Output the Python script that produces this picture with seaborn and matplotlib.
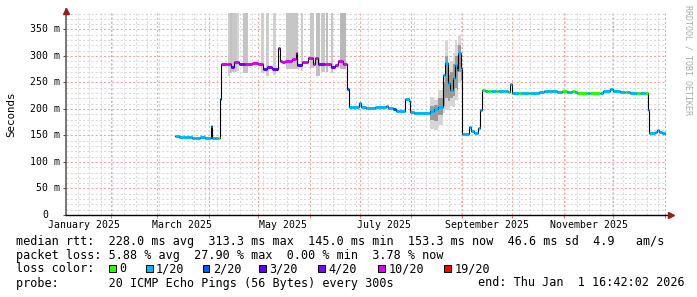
import matplotlib
matplotlib.use("Agg")
import matplotlib.pyplot as plt
import matplotlib.transforms as mtrans
from matplotlib.patches import Rectangle
import numpy as np
import pandas as pd
import seaborn as sns

# ---------------- data (x = days since 2025-01-01, y = milliseconds) ----------------
med_day = [69.8, 72.0, 74.5, 76.0, 78.0, 80.0, 82.0, 85.0, 88.0, 91.4,
           92.2, 93.6, 95.6, 97.1, 97.7, 101.0, 103.5, 105.0, 108.0, 112.0,
           116.0, 120.0, 123.0, 125.0, 128.0, 131.6, 133.0, 134.0, 136.0, 140.0,
           142.4, 143.4, 146.5, 150.0, 153.0, 154.2, 156.0, 160.0, 163.5, 166.0,
           168.0, 171.0, 173.6, 174.8, 180.8, 182.0, 185.0, 190.0, 197.0, 198.0,
           201.0, 203.0, 205.0, 208.4, 210.8, 211.6, 214.0, 217.0, 223.6, 226.0,
           228.4, 231.0, 232.4, 234.0, 235.6, 237.0, 238.4, 239.6, 240.6, 242.0,
           242.6, 247.0, 248.0, 250.0, 252.4, 253.6, 254.6, 256.5, 258.5, 260.5,
           263.0, 264.5, 268.0, 270.5, 271.6, 273.0, 277.0, 278.0, 283.0, 284.0,
           289.0, 292.0, 297.0, 300.0, 303.0, 306.0, 309.0, 311.0, 312.0, 318.0,
           320.0, 326.0, 328.0, 332.0, 334.0, 338.0, 341.0, 342.0, 344.0, 348.0,
           350.0, 353.0, 355.0, 355.6, 359.0, 360.0, 361.4, 363.0, 365.0]
med_ms = [148.5, 147.0, 148.0, 146.5, 147.5, 146.0, 145.0, 146.5, 145.8, 167.0,
          145.0, 145.5, 145.0, 219.0, 284.3, 285.0, 280.0, 288.0, 285.0, 285.0,
          286.0, 285.0, 275.0, 278.6, 276.0, 314.5, 291.0, 289.0, 291.0, 293.8,
          305.0, 283.0, 289.0, 295.6, 285.0, 295.6, 285.0, 285.0, 278.6, 283.0,
          290.6, 285.0, 238.0, 204.4, 210.7, 204.4, 202.5, 204.0, 206.0, 201.0,
          199.7, 196.8, 196.0, 218.0, 215.6, 194.0, 193.0, 192.0, 196.8, 200.0,
          204.0, 264.0, 287.0, 248.5, 236.0, 258.0, 283.0, 273.6, 305.0, 276.8,
          152.8, 165.4, 159.0, 155.3, 163.5, 198.0, 236.0, 234.0, 233.5, 233.0,
          234.0, 233.0, 233.5, 232.5, 246.6, 230.8, 230.8, 230.8, 231.0, 230.8,
          232.6, 234.0, 233.0, 232.5, 233.8, 232.6, 233.0, 232.0, 230.8, 230.8,
          230.8, 231.0, 234.0, 237.7, 234.0, 232.0, 232.0, 232.0, 230.8, 231.0,
          230.8, 231.0, 198.0, 154.0, 157.0, 160.0, 156.0, 154.0, 153.3]
med_loss = [1, 1, 1, 1, 1, 1, 1, 1, 1, 1,
            1, 1, 0, 2, 10, 10, 3, 10, 4, 10,
            10, 10, 3, 4, 3, 10, 10, 10, 10, 10,
            10, 3, 10, 10, 10, 10, 4, 10, 3, 10,
            10, 10, 2, 1, 1, 1, 1, 1, 1, 1,
            2, 1, 1, 1, 1, 1, 1, 1, 1, 1,
            1, 1, 1, 1, 1, 1, 1, 1, 1, 1,
            1, 1, 1, 1, 1, 1, 0, 1, 0, 1,
            0, 1, 1, 0, 1, 1, 0, 1, 0, 1,
            1, 1, 1, 1, 0, 1, 0, 1, 0, 1,
            0, 1, 1, 1, 1, 1, 0, 1, 1, 0,
            1, 0, 1, 1, 1, 1, 1, 1, 1]
END_DAY = 365.7

# smoke (grey) bars in the spring period, reaching above the chart top
bar_start = [101.6, 103.0, 104.2, 107.0, 111.0, 121.4, 124.4, 129.0, 136.4, 145.4, 150.8, 155.0, 158.0, 161.0, 164.0, 169.4]
bar_end = [103.0, 104.2, 107.0, 108.0, 114.0, 123.2, 126.6, 130.6, 144.0, 147.0, 153.8, 157.0, 160.0, 162.2, 165.0, 173.0]
bar_low = [262, 268, 270, 272, 268, 268, 262, 265, 275, 272, 278, 262, 270, 270, 268, 275]
bar_shade = ['#cccccc', '#c2c2c2', '#c8c8c8', '#d4d4d4', '#c4c4c4', '#cfcfcf', '#cccccc', '#d0d0d0',
             '#c6c6c6', '#cccccc', '#c8c8c8', '#c0c0c0', '#c8c8c8', '#bdbdbd', '#c8c8c8', '#b8b8b8']
SMOKE_TOP = 400

# smoke in late August / early September
sep_start = [223.6, 226.0, 228.4, 231.0, 232.4, 234.0, 235.6, 237.0, 238.4, 239.6, 240.6, 242.0]
sep_end = [226.0, 228.4, 231.0, 232.4, 234.0, 235.6, 237.0, 238.4, 239.6, 240.6, 242.0, 242.6]
sep_outer_lo = [163, 160, 170, 192, 198, 198, 205, 204, 217, 215, 249, 240]
sep_outer_hi = [223, 217, 236, 264, 330, 280, 290, 305, 330, 320, 340, 300]
sep_inner_lo = [180, 178, 188, 205, 220, 215, 220, 225, 240, 235, 270, 255]
sep_inner_hi = [205, 208, 220, 250, 300, 265, 270, 285, 300, 300, 320, 290]

month_labels = ['January 2025', 'March 2025', 'May 2025', 'July 2025', 'September 2025', 'November 2025']
month_label_days = [15, 74, 135, 196, 258, 319]
month_start_days = [31, 59, 90, 120, 151, 181, 212, 243, 273, 304, 334, 365]
y_ticks = [0, 50, 100, 150, 200, 250, 300, 350]
y_labels = ['0', '50 m', '100 m', '150 m', '200 m', '250 m', '300 m', '350 m']

loss_codes = [0, 1, 2, 3, 4, 10, 19]
loss_names = ['0', '1/20', '2/20', '3/20', '4/20', '10/20', '19/20']
loss_colors = ['#26ff00', '#00b8ff', '#0059ff', '#5e00ff', '#7e00ff', '#dd00ff', '#ff0000']

stat_lines = [
    "median rtt:  228.0 ms avg  313.3 ms max  145.0 ms min  153.3 ms now  46.6 ms sd  4.9   am/s",
    "packet loss: 5.88 % avg  27.90 % max  0.00 % min  3.78 % now",
]
probe_text = "probe:       20 ICMP Echo Pings (56 Bytes) every 300s"
end_text = "end: Thu Jan  1 16:42:02 2026"

# ---------------- drawing ----------------
MONO = 'DejaVu Sans Mono'
plt.rcParams['font.family'] = [MONO, 'DejaVu Sans']

W, H = 697, 297
fig = plt.figure(figsize=(W / 100, H / 100), dpi=100)
ax = fig.add_axes([66 / W, (H - 215) / H, 600 / W, 202 / H])

ax.set_xlim(5.7, END_DAY)
ax.set_ylim(0, 381)

# grid
ax.set_xticks(month_start_days)
ax.set_xticks(np.arange(4, 366, 7), minor=True)
ax.set_yticks(y_ticks)
ax.set_yticks(np.arange(0, 381, 10), minor=True)
ax.set_xticklabels([])
ax.set_yticklabels([])
ax.grid(True, which='minor', color='#d9d9d9', linestyle=(0, (2, 2)), linewidth=0.75)
ax.grid(True, which='major', color='#f2a3a3', linestyle=(0, (2, 2)), linewidth=0.75)
ax.set_axisbelow(True)
ax.tick_params(axis='y', which='major', length=2, width=0.8, color='#555555')
ax.tick_params(axis='x', which='major', length=2, width=0.8, color='#e08080')
ax.tick_params(which='minor', length=0)
for s in ax.spines.values():
    s.set_visible(False)

# smoke
ax.bar(bar_start, [SMOKE_TOP - lo for lo in bar_low], bottom=bar_low,
       width=[e - s for s, e in zip(bar_start, bar_end)], align='edge',
       color=bar_shade, linewidth=0, zorder=2)
ax.bar(sep_start, [h - l for l, h in zip(sep_outer_lo, sep_outer_hi)], bottom=sep_outer_lo,
       width=[e - s for s, e in zip(sep_start, sep_end)], align='edge',
       color='#d6d6d6', linewidth=0, zorder=2)
ax.bar(sep_start, [h - l for l, h in zip(sep_inner_lo, sep_inner_hi)], bottom=sep_inner_lo,
       width=[e - s for s, e in zip(sep_start, sep_end)], align='edge',
       color='#9a9a9a', linewidth=0, zorder=2.5)

# median: black step line
line_df = pd.DataFrame({'day': med_day + [END_DAY], 'ms': med_ms + [med_ms[-1]]})
sns.lineplot(data=line_df, x='day', y='ms', drawstyle='steps-post', color='black',
             linewidth=0.8, estimator=None, sort=False, ax=ax, zorder=4)

# median: loss-coloured thick segments
name_of = dict(zip(loss_codes, loss_names))
palette = dict(zip(loss_names, loss_colors))
ends = med_day[1:] + [END_DAY]
rows = []
for i, (d, e, v, l) in enumerate(zip(med_day, ends, med_ms, med_loss)):
    rows.append((d, v, i, name_of[l]))
    rows.append((e, v, i, name_of[l]))
seg_df = pd.DataFrame(rows, columns=['day', 'ms', 'seg', 'loss'])
sns.lineplot(data=seg_df, x='day', y='ms', hue='loss', units='seg', estimator=None,
             palette=palette, linewidth=2.2, legend=False, sort=False, ax=ax, zorder=5,
             solid_capstyle='butt')
ax.set_xlabel('')
ax.set_ylabel('')

# axis lines and arrows
ax.plot([0, 0], [0, (215 - 9) / 202], transform=ax.transAxes, color='#555555', lw=1.1,
        clip_on=False, zorder=6)
ax.plot([0, (669 - 66) / 600], [0, 0], transform=ax.transAxes, color='black', lw=1.0,
        clip_on=False, zorder=6)
ax.plot([0], [(215 - 10.5) / 202], marker='^', ms=4, color='#9b1c1c', transform=ax.transAxes,
        clip_on=False, zorder=7)
ax.plot([(670.5 - 66) / 600], [0], marker='>', ms=4, color='#9b1c1c', transform=ax.transAxes,
        clip_on=False, zorder=7)

# tick labels
ytrans = mtrans.blended_transform_factory(ax.transAxes, ax.transData)
for v, lab in zip(y_ticks, y_labels):
    xpx = 60.5 if lab.endswith('m') else 48.5
    ax.text((xpx - 66) / 600, v, lab, transform=ytrans, ha='right', va='center',
            fontsize=7.1, family=MONO)
xtrans = mtrans.blended_transform_factory(ax.transData, ax.transAxes)
for d, lab in zip(month_label_days, month_labels):
    ax.text(d, -9.5 / 202, lab, transform=xtrans, ha='center', va='center',
            fontsize=7.1, family=MONO)

fig.text(11 / W, 1 - 114.5 / H, 'Seconds', rotation=90, ha='center', va='center',
         fontsize=7.8, family=MONO)
fig.text(688 / W, 1 - 5 / H, 'RRDTOOL / TOBI OETIKER', rotation=270, ha='center', va='top',
         fontsize=6, family=MONO, color='#aaaaaa')

# statistics / legend block
def fy(py):
    return 1 - py / H

fig.text(16 / W, fy(241), stat_lines[0], ha='left', va='center', fontsize=8.5, family=MONO)
fig.text(16 / W, fy(255), stat_lines[1], ha='left', va='center', fontsize=8.5, family=MONO)
fig.text(16 / W, fy(269), 'loss color:', ha='left', va='center', fontsize=8.5, family=MONO)
square_px = [109.3, 146, 202.7, 259.3, 318, 378.3, 444.3]
for xpx, name, col in zip(square_px, loss_names, loss_colors):
    fig.add_artist(Rectangle((xpx / W, fy(271.7)), 6.7 / W, 6.7 / H, transform=fig.transFigure,
                             facecolor=col, edgecolor='black', linewidth=0.7))
    fig.text((xpx + 10) / W, fy(269), name, ha='left', va='center', fontsize=8.5, family=MONO)
fig.text(16 / W, fy(283), probe_text, ha='left', va='center', fontsize=8.5, family=MONO)
fig.text(478.3 / W, fy(283), end_text, ha='left', va='center', fontsize=8.5, family=MONO)

fig.savefig('out.png', dpi=100)
